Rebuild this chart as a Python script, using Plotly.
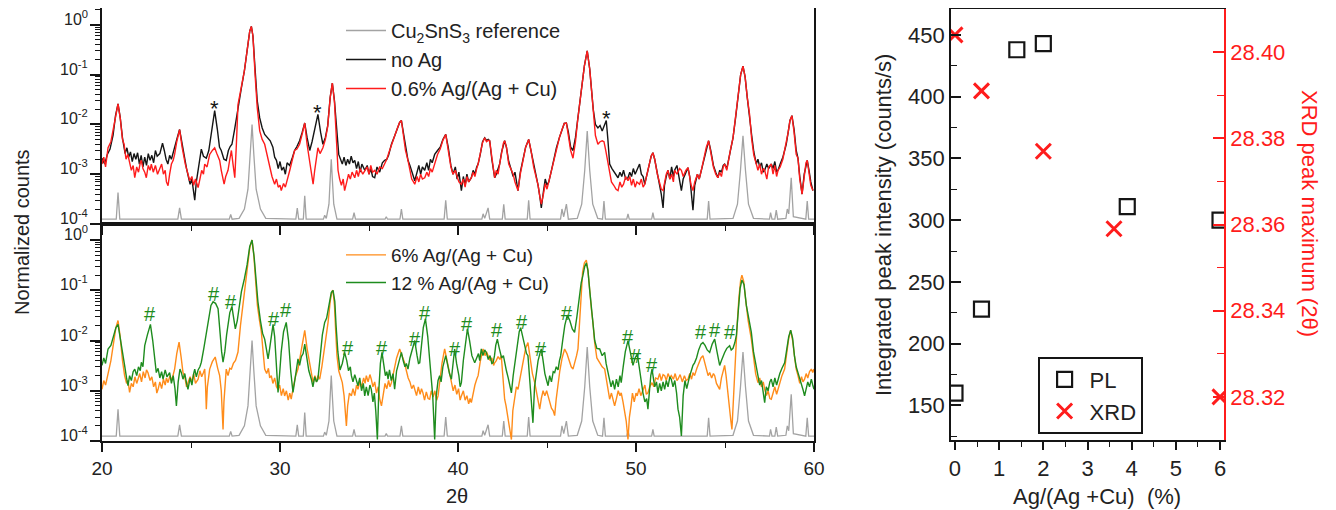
import math
import plotly.graph_objects as go

# ---------------- data (2theta, normalized counts) ----------------
ref_pts = [(20.0,1.25e-4),(20.8,1.25e-4),(20.9,4.3e-4),(21.0,1.25e-4),
    (24.26,1.25e-4),(24.36,2.1e-4),(24.46,1.25e-4),
    (27.15,1.25e-4),(27.23,1.55e-4),(27.31,1.25e-4),
    (27.7,1.3e-4),(28.0,2.0e-4),(28.2,5.0e-4),(28.33,2.5e-3),(28.43,1.0e-2),(28.53,2.5e-3),(28.66,5.0e-4),(28.9,2.0e-4),(29.2,1.3e-4),
    (30.89,1.25e-4),(30.97,2.1e-4),(31.05,1.25e-4),
    (31.31,1.25e-4),(31.39,3.7e-4),(31.47,1.25e-4),
    (32.44,1.25e-4),(32.51,1.5e-4),(32.6,1.3e-4),(32.75,2.5e-4),(32.82,8e-4),(32.88,2.0e-3),(32.94,8e-4),(33.02,2.5e-4),(33.2,1.25e-4),
    (34.08,1.25e-4),(34.16,1.7e-4),(34.24,1.25e-4),
    (35.9,1.25e-4),(35.97,1.4e-4),(36.04,1.25e-4),
    (36.74,1.25e-4),(36.82,2.0e-4),(36.9,1.25e-4),
    (39.22,1.25e-4),(39.31,3.0e-4),(39.4,1.25e-4),
    (41.34,1.25e-4),(41.41,1.6e-4),(41.5,1.3e-4),(41.69,2.1e-4),(41.78,1.25e-4),
    (42.49,1.25e-4),(42.57,2.5e-4),(42.65,1.25e-4),
    (43.89,1.25e-4),(43.97,3.0e-4),(44.05,1.25e-4),
    (45.76,1.25e-4),(45.84,2.0e-4),(45.94,1.4e-4),(46.09,2.5e-4),(46.2,1.25e-4),
    (46.7,1.3e-4),(46.95,2.5e-4),(47.12,1.2e-3),(47.26,7.4e-3),(47.4,1.2e-3),(47.57,2.5e-4),(47.85,1.3e-4),
    (48.12,1.25e-4),(48.2,2.9e-4),(48.28,1.25e-4),
    (49.48,1.25e-4),(49.55,1.6e-4),(49.62,1.25e-4),
    (50.88,1.25e-4),(50.95,1.7e-4),(51.02,1.25e-4),
    (54.0,1.25e-4),(54.08,2.9e-4),(54.16,1.25e-4),
    (55.45,1.3e-4),(55.7,2.5e-4),(55.87,1.2e-3),(56.01,5.9e-3),(56.15,1.2e-3),(56.32,2.5e-4),(56.6,1.3e-4),
    (57.5,1.25e-4),(57.56,1.7e-4),(57.64,1.25e-4),(57.8,1.25e-4),(57.88,1.9e-4),(57.96,1.25e-4),
    (58.42,1.3e-4),(58.5,2.0e-4),(58.58,1.6e-4),(58.72,8.5e-4),(58.84,1.4e-4),
    (59.54,1.25e-4),(59.62,2.9e-4),(59.7,1.25e-4),(60.0,1.25e-4)]

no_ag_pts = [(20.0,2.1e-3),(20.15,1.6e-3),(20.3,2.5e-3),(20.45,3.2e-3),(20.62,6.0e-3),(20.76,0.015),(20.9,0.026),(21.02,0.014),(21.15,5.4e-3),(21.3,2.6e-3),
    (21.4,3.4e-3),(21.5,2.2e-3),(21.6,2.8e-3),(21.7,1.8e-3),(21.8,2.6e-3),(21.9,2.0e-3),(22.0,2.7e-3),(22.1,1.6e-3),(22.2,2.4e-3),(22.3,1.4e-3),
    (22.4,2.2e-3),(22.5,1.5e-3),(22.6,2.6e-3),(22.7,1.9e-3),(22.8,2.4e-3),(22.9,1.7e-3),(23.0,3.0e-3),(23.1,2.3e-3),(23.25,2.6e-3),(23.4,4.2e-3),
    (23.5,3.0e-3),(23.6,2.0e-3),(23.7,1.6e-3),(23.8,2.4e-3),(23.9,2.0e-3),(24.05,3.0e-3),(24.2,5.0e-3),(24.36,7.9e-3),(24.5,4.0e-3),(24.64,2.1e-3),
    (24.75,1.3e-3),(24.85,9e-4),(24.95,6.3e-4),(25.05,8.0e-4),(25.15,4.5e-4),(25.21,3.0e-4),(25.3,7.0e-4),(25.4,1.2e-3),(25.5,2.4e-3),(25.58,3.2e-3),
    (25.7,2.3e-3),(25.86,2.1e-3),(26.0,3.0e-3),(26.15,7.0e-3),(26.33,0.019),(26.48,8.0e-3),(26.6,3.5e-3),(26.7,3.0e-3),(26.85,2.0e-3),(26.98,1.9e-3),
    (27.1,3.0e-3),(27.2,3.6e-3),(27.3,4.0e-3),(27.45,8.0e-3),(27.6,0.018),(27.83,0.054),(28.0,0.12),(28.15,0.3),(28.3,0.75),(28.39,0.93),
    (28.48,0.6),(28.6,0.13),(28.72,0.03),(28.86,0.0135),(29.0,8.5e-3),(29.14,6.3e-3),(29.3,5.5e-3),(29.45,4.7e-3),(29.6,3.5e-3),(29.7,2.2e-3),
    (29.8,1.9e-3),(29.9,1.3e-3),(30.0,1.8e-3),(30.1,1.2e-3),(30.2,1.4e-3),(30.3,1.0e-3),(30.4,1.7e-3),(30.54,1.5e-3),(30.7,2.2e-3),(30.82,3.0e-3),
    (30.95,3.6e-3),(31.1,4.7e-3),(31.25,7.0e-3),(31.39,0.0107),(31.52,5.5e-3),(31.67,3.0e-3),(31.8,4.5e-3),(31.95,7.5e-3),(32.13,0.016),(32.28,7.0e-3),
    (32.41,4.0e-3),(32.55,5.5e-3),(32.68,9.5e-3),(32.82,0.035),(32.94,0.068),(33.06,0.03),(33.18,7.0e-3),(33.3,2.5e-3),(33.4,2.0e-3),(33.5,1.6e-3),
    (33.6,2.2e-3),(33.7,1.5e-3),(33.8,2.0e-3),(33.9,1.6e-3),(34.0,2.3e-3),(34.1,1.7e-3),(34.2,1.9e-3),(34.3,1.3e-3),(34.4,1.8e-3),(34.5,1.1e-3),
    (34.6,1.6e-3),(34.76,1.2e-3),(34.9,1.5e-3),(35.0,1.0e-3),(35.1,1.3e-3),(35.2,9e-4),(35.32,8.5e-4),(35.45,1.4e-3),(35.6,1.1e-3),(35.75,1.7e-3),
    (35.88,1.9e-3),(36.0,2.0e-3),(36.1,2.4e-3),(36.26,4.0e-3),(36.45,6.0e-3),(36.6,8.5e-3),(36.72,0.011),(36.82,0.012),(36.95,6.5e-3),(37.05,3.5e-3),
    (37.19,1.9e-3),(37.3,1.5e-3),(37.4,1.1e-3),(37.5,9e-4),(37.57,7.4e-4),(37.7,1.1e-3),(37.8,1.5e-3),(37.9,1.0e-3),(38.0,1.4e-3),(38.13,1.2e-3),
    (38.25,1.7e-3),(38.35,1.2e-3),(38.45,2.0e-3),(38.55,1.7e-3),(38.69,2.5e-3),(38.85,3.0e-3),(39.0,3.5e-3),(39.15,5.0e-3),(39.31,6.3e-3),(39.45,3.5e-3),
    (39.6,1.5e-3),(39.72,1.0e-3),(39.85,1.4e-3),(39.95,8e-4),(40.05,1.1e-3),(40.19,4.7e-4),(40.3,9e-4),(40.4,6e-4),(40.5,1.0e-3),(40.6,7e-4),
    (40.75,8.5e-4),(40.85,1.2e-3),(40.95,1.0e-3),(41.05,1.4e-3),(41.13,1.6e-3),(41.25,2.5e-3),(41.38,4.5e-3),(41.5,5.4e-3),(41.6,4.8e-3),(41.7,5.0e-3),
    (41.78,4.7e-3),(41.9,2.0e-3),(42.0,1.2e-3),(42.06,8.5e-4),(42.15,1.0e-3),(42.25,1.3e-3),(42.34,1.6e-3),(42.45,2.8e-3),(42.55,4.2e-3),(42.62,4.7e-3),
    (42.72,3.5e-3),(42.85,1.8e-3),(43.0,1.2e-3),(43.1,9e-4),(43.2,1.1e-3),(43.3,6e-4),(43.37,4.7e-4),(43.5,1.1e-3),(43.65,2.0e-3),(43.8,3.5e-3),
    (43.97,5.0e-3),(44.1,3.0e-3),(44.25,1.5e-3),(44.4,8.5e-4),(44.5,6e-4),(44.6,3.5e-4),(44.68,2.1e-4),(44.8,4.5e-4),(44.9,8e-4),(45.0,6e-4),
    (45.1,7e-4),(45.25,1.2e-3),(45.4,2.2e-3),(45.53,3.4e-3),(45.7,5.5e-3),(45.85,8.0e-3),(45.97,0.0105),(46.09,0.0107),(46.2,7.0e-3),(46.33,3.5e-3),
    (46.46,3.0e-3),(46.6,5.5e-3),(46.72,0.013),(46.84,0.025),(46.97,0.06),(47.1,0.15),(47.26,0.30),(47.4,0.13),(47.5,0.05),(47.6,0.02),
    (47.72,0.01),(47.86,8.5e-3),(47.98,9.5e-3),(48.1,7.4e-3),(48.22,9.5e-3),(48.33,0.012),(48.42,5.0e-3),(48.52,1.6e-3),(48.65,1.3e-3),(48.8,1.1e-3),
    (48.99,8.5e-4),(49.1,1.1e-3),(49.2,9e-4),(49.3,1.2e-3),(49.42,8e-4),(49.55,8.5e-4),(49.65,1.1e-3),(49.75,9e-4),(49.85,1.3e-3),(49.95,1.0e-3),
    (50.05,1.2e-3),(50.2,1.6e-3),(50.3,1.0e-3),(50.4,9e-4),(50.49,6.3e-4),(50.6,1.0e-3),(50.75,1.6e-3),(50.85,2.3e-3),(50.95,2.7e-3),(51.05,2.0e-3),
    (51.2,1.0e-3),(51.33,6.3e-4),(51.42,4e-4),(51.52,2.1e-4),(51.6,6e-4),(51.7,9e-4),(51.8,1.2e-3),(51.9,8e-4),(52.0,1.4e-3),(52.1,9e-4),
    (52.17,1.2e-3),(52.3,1.5e-3),(52.45,7e-4),(52.55,4.7e-4),(52.65,8e-4),(52.8,1.1e-3),(52.92,1.35e-3),(53.02,9e-4),(53.1,4e-4),(53.2,1.9e-4),
    (53.3,6e-4),(53.45,1.0e-3),(53.55,8e-4),(53.67,1.2e-3),(53.8,2.0e-3),(53.95,3.5e-3),(54.08,4.7e-3),(54.2,3.0e-3),(54.35,1.5e-3),(54.48,1.1e-3),
    (54.6,8.5e-4),(54.7,1.2e-3),(54.8,1.1e-3),(54.9,1.5e-3),(54.98,1.6e-3),(55.1,1.3e-3),(55.2,2.0e-3),(55.3,3.0e-3),(55.45,5.4e-3),(55.6,0.014),
    (55.75,0.04),(55.88,0.1),(56.01,0.148),(56.13,0.09),(56.25,0.035),(56.38,0.016),(56.5,6.0e-3),(56.62,2.8e-3),(56.76,1.6e-3),(56.85,2.0e-3),
    (56.95,1.4e-3),(57.05,1.7e-3),(57.15,1.1e-3),(57.23,1.2e-3),(57.35,1.6e-3),(57.45,1.3e-3),(57.6,1.6e-3),(57.7,1.3e-3),(57.8,1.8e-3),(57.9,1.1e-3),
    (57.98,1.2e-3),(58.1,1.6e-3),(58.25,2.2e-3),(58.35,3.0e-3),(58.44,4.0e-3),(58.55,7.0e-3),(58.65,0.012),(58.76,0.015),(58.88,0.008),(59.0,3.0e-3),
    (59.1,2.1e-3),(59.2,9e-4),(59.33,4.0e-4),(59.45,1.0e-3),(59.55,1.6e-3),(59.62,1.9e-3),(59.72,1.2e-3),(59.82,7e-4),(59.94,4.7e-4)]

ag06_pts = [(20.0,1.6e-3),(20.1,2.2e-3),(20.2,1.4e-3),(20.34,3.4e-3),(20.5,4.5e-3),(20.64,8.0e-3),(20.77,0.016),(20.9,0.026),(21.03,0.013),(21.15,5.0e-3),
    (21.24,4.0e-3),(21.35,2.0e-3),(21.45,2.5e-3),(21.55,1.6e-3),(21.65,1.2e-3),(21.75,1.5e-3),(21.84,8.5e-4),(21.95,1.4e-3),(22.05,1.1e-3),(22.15,1.7e-3),
    (22.21,1.9e-3),(22.3,1.3e-3),(22.4,1.1e-3),(22.49,8.5e-4),(22.6,1.5e-3),(22.7,1.2e-3),(22.77,1.6e-3),(22.88,1.1e-3),(23.0,1.5e-3),(23.12,1.0e-3),
    (23.24,1.35e-3),(23.35,1.6e-3),(23.45,1.0e-3),(23.55,1.2e-3),(23.62,7e-4),(23.71,5.9e-4),(23.8,1.0e-3),(23.9,1.6e-3),(24.0,1.9e-3),(24.08,2.5e-3),
    (24.2,4.5e-3),(24.36,7.9e-3),(24.5,3.5e-3),(24.6,2.2e-3),(24.68,1.6e-3),(24.8,1.1e-3),(24.93,7.4e-4),(25.05,9e-4),(25.15,6e-4),(25.25,8e-4),
    (25.4,5.4e-4),(25.5,8e-4),(25.6,1.2e-3),(25.7,1.0e-3),(25.77,1.6e-3),(25.9,1.4e-3),(26.05,2.5e-3),(26.2,3.0e-3),(26.33,3.4e-3),(26.45,2.6e-3),
    (26.55,2.2e-3),(26.61,1.9e-3),(26.7,1.2e-3),(26.78,8e-4),(26.86,6.3e-4),(26.95,9e-4),(27.08,1.2e-3),(27.18,2.0e-3),(27.27,3.0e-3),(27.36,1.6e-3),
    (27.46,8.5e-4),(27.55,4.0e-3),(27.64,0.025),(27.8,0.05),(28.0,0.12),(28.15,0.3),(28.3,0.75),(28.39,0.93),(28.48,0.6),(28.6,0.1),
    (28.72,0.022),(28.86,7.4e-3),(29.0,5.0e-3),(29.14,4.0e-3),(29.28,2.5e-3),(29.42,1.35e-3),(29.55,9e-4),(29.7,6.3e-4),(29.8,8e-4),(29.9,5.5e-4),
    (30.0,6e-4),(30.07,4.7e-4),(30.2,6.5e-4),(30.3,5.5e-4),(30.45,8.5e-4),(30.55,1.2e-3),(30.7,2.0e-3),(30.82,3.0e-3),(30.95,3.2e-3),(31.1,4.0e-3),
    (31.25,6.5e-3),(31.39,0.0107),(31.52,4.0e-3),(31.67,1.6e-3),(31.78,9e-4),(31.86,6.3e-4),(31.95,1.2e-3),(32.05,2.2e-3),(32.13,3.4e-3),(32.25,2.6e-3),
    (32.41,3.4e-3),(32.55,5.0e-3),(32.68,9.0e-3),(32.82,0.035),(32.94,0.068),(33.06,0.028),(33.18,5.0e-3),(33.26,1.2e-3),(33.35,8e-4),(33.45,6e-4),
    (33.55,8e-4),(33.63,4.7e-4),(33.75,7e-4),(33.85,1.0e-3),(33.95,8e-4),(34.05,1.1e-3),(34.2,8.5e-4),(34.3,1.2e-3),(34.4,9e-4),(34.5,1.3e-3),
    (34.65,1.0e-3),(34.76,1.2e-3),(34.9,1.4e-3),(35.0,1.0e-3),(35.1,1.5e-3),(35.2,1.1e-3),(35.32,1.2e-3),(35.45,1.0e-3),(35.6,1.4e-3),(35.75,1.3e-3),
    (35.88,1.6e-3),(36.0,2.0e-3),(36.1,2.6e-3),(36.26,4.0e-3),(36.45,6.0e-3),(36.6,8.5e-3),(36.72,0.011),(36.82,0.012),(36.95,6.0e-3),(37.05,3.0e-3),
    (37.19,1.9e-3),(37.3,1.2e-3),(37.4,8e-4),(37.5,7e-4),(37.57,6.3e-4),(37.7,9e-4),(37.8,7e-4),(37.9,1.0e-3),(38.0,8e-4),(38.13,8.5e-4),
    (38.25,1.1e-3),(38.35,9e-4),(38.45,1.3e-3),(38.55,1.1e-3),(38.69,1.6e-3),(38.85,2.5e-3),(39.0,3.2e-3),(39.15,4.8e-3),(39.31,6.3e-3),(39.45,3.0e-3),
    (39.6,1.4e-3),(39.72,1.0e-3),(39.85,1.2e-3),(39.95,9e-4),(40.05,7e-4),(40.19,6.3e-4),(40.3,8e-4),(40.4,5.5e-4),(40.5,9e-4),(40.6,7e-4),
    (40.75,8.5e-4),(40.85,1.1e-3),(40.95,9e-4),(41.05,1.3e-3),(41.13,1.6e-3),(41.25,2.6e-3),(41.38,4.3e-3),(41.5,5.4e-3),(41.6,4.5e-3),(41.7,4.8e-3),
    (41.78,4.7e-3),(41.9,2.2e-3),(42.0,1.1e-3),(42.06,8.5e-4),(42.15,1.2e-3),(42.25,1.0e-3),(42.34,1.6e-3),(42.45,2.8e-3),(42.55,4.2e-3),(42.62,4.7e-3),
    (42.72,3.5e-3),(42.85,1.6e-3),(43.0,1.2e-3),(43.1,1.0e-3),(43.2,7e-4),(43.3,5.5e-4),(43.37,4.7e-4),(43.5,1.0e-3),(43.65,2.0e-3),(43.8,3.5e-3),
    (43.97,5.0e-3),(44.1,3.0e-3),(44.25,1.4e-3),(44.4,8.5e-4),(44.5,6e-4),(44.6,3.5e-4),(44.68,2.5e-4),(44.8,4e-4),(44.9,6.5e-4),(45.0,5e-4),
    (45.1,7e-4),(45.25,1.2e-3),(45.4,2.0e-3),(45.53,3.4e-3),(45.7,5.5e-3),(45.85,8.0e-3),(45.97,0.0105),(46.09,0.0107),(46.2,6.5e-3),(46.33,3.0e-3),
    (46.46,2.1e-3),(46.6,4.5e-3),(46.72,0.012),(46.84,0.025),(46.97,0.06),(47.1,0.15),(47.26,0.30),(47.4,0.13),(47.5,0.05),(47.6,0.016),
    (47.72,6.0e-3),(47.86,4.0e-3),(47.98,4.5e-3),(48.1,4.7e-3),(48.2,4.5e-3),(48.3,3.0e-3),(48.42,1.6e-3),(48.52,1.0e-3),(48.62,7e-4),(48.75,6e-4),
    (48.88,5e-4),(48.99,4.7e-4),(49.1,7e-4),(49.2,5.5e-4),(49.3,6.3e-4),(49.42,9e-4),(49.55,7.4e-4),(49.65,9e-4),(49.75,6e-4),(49.85,8e-4),
    (49.95,5.5e-4),(50.05,7e-4),(50.2,6.3e-4),(50.3,8e-4),(50.4,5.5e-4),(50.49,6.3e-4),(50.6,9e-4),(50.75,1.6e-3),(50.85,2.3e-3),(50.95,2.7e-3),
    (51.05,2.0e-3),(51.2,1.0e-3),(51.33,6.3e-4),(51.42,5e-4),(51.52,4.7e-4),(51.6,7e-4),(51.7,1.0e-3),(51.8,1.2e-3),(51.9,8e-4),(52.0,1.0e-3),
    (52.1,7e-4),(52.17,1.2e-3),(52.3,1.0e-3),(52.45,1.3e-3),(52.55,1.2e-3),(52.65,9e-4),(52.8,1.2e-3),(52.92,1.35e-3),(53.02,8e-4),(53.1,6e-4),
    (53.2,4.7e-4),(53.3,7e-4),(53.45,1.0e-3),(53.55,8e-4),(53.67,1.2e-3),(53.8,2.0e-3),(53.95,3.5e-3),(54.08,4.7e-3),(54.2,2.8e-3),(54.35,1.4e-3),
    (54.48,1.0e-3),(54.6,8.5e-4),(54.7,1.1e-3),(54.8,9e-4),(54.9,1.4e-3),(54.98,1.6e-3),(55.1,1.2e-3),(55.2,2.0e-3),(55.3,3.0e-3),(55.45,5.4e-3),
    (55.6,0.014),(55.75,0.04),(55.88,0.1),(56.01,0.148),(56.13,0.09),(56.25,0.035),(56.38,0.016),(56.5,5.0e-3),(56.62,2.4e-3),(56.76,1.6e-3),
    (56.85,1.2e-3),(56.95,1.6e-3),(57.05,1.0e-3),(57.15,1.3e-3),(57.23,1.2e-3),(57.35,8e-4),(57.45,1.4e-3),(57.6,1.6e-3),(57.7,1.0e-3),(57.8,1.5e-3),
    (57.9,9e-4),(57.98,1.2e-3),(58.1,1.4e-3),(58.25,2.0e-3),(58.35,3.0e-3),(58.44,4.0e-3),(58.55,7.0e-3),(58.65,0.012),(58.76,0.015),(58.88,0.007),
    (59.0,2.5e-3),(59.1,2.1e-3),(59.2,8e-4),(59.33,4.0e-4),(59.45,9e-4),(59.55,1.7e-3),(59.62,1.9e-3),(59.72,1.1e-3),(59.82,6e-4),(59.94,4.7e-4)]

ag6_pts = [(20.0,1.07e-3),(20.1,1.6e-3),(20.2,1.3e-3),(20.34,2.3e-3),(20.5,4.0e-3),(20.65,9.0e-3),(20.78,0.018),(20.9,0.025),(21.02,0.012),(21.15,4.0e-3),
    (21.27,2.0e-3),(21.38,1.4e-3),(21.46,1.6e-3),(21.55,9.3e-4),(21.65,1.4e-3),(21.75,1.2e-3),(21.85,1.9e-3),(21.95,1.4e-3),(22.02,1.7e-3),(22.12,2.2e-3),
    (22.22,1.5e-3),(22.32,2.4e-3),(22.42,1.8e-3),(22.5,2.6e-3),(22.58,2.3e-3),(22.7,1.6e-3),(22.8,1.9e-3),(22.9,1.2e-3),(23.0,1.5e-3),(23.08,9e-4),
    (23.15,1.07e-3),(23.25,1.5e-3),(23.35,1.1e-3),(23.45,1.7e-3),(23.55,1.3e-3),(23.62,1.8e-3),(23.71,1.45e-3),(23.82,2.0e-3),(23.92,1.6e-3),(24.0,2.2e-3),
    (24.08,2.7e-3),(24.2,5.5e-3),(24.33,9.3e-3),(24.45,4.5e-3),(24.55,2.3e-3),(24.65,1.9e-3),(24.75,1.2e-3),(24.83,1.45e-3),(24.95,1.9e-3),(25.05,1.5e-3),
    (25.15,2.2e-3),(25.25,1.4e-3),(25.4,1.7e-3),(25.5,2.5e-3),(25.6,1.9e-3),(25.7,2.3e-3),(25.77,2.7e-3),(25.82,1.2e-3),(25.86,4.3e-4),(25.92,1.2e-3),
    (26.05,2.7e-3),(26.2,3.8e-3),(26.36,4.7e-3),(26.5,2.8e-3),(26.61,2.0e-3),(26.7,1.0e-3),(26.76,4e-4),(26.8,1.7e-4),(26.85,6e-4),(26.92,1.6e-3),
    (26.98,2.7e-3),(27.08,2.0e-3),(27.18,2.8e-3),(27.27,2.7e-3),(27.38,3.5e-3),(27.5,4.0e-3),(27.64,5.9e-3),(27.78,0.02),(27.9,0.05),(28.02,0.107),
    (28.15,0.25),(28.3,0.7),(28.43,1.0),(28.53,0.5),(28.63,0.14),(28.73,0.05),(28.85,0.025),(28.95,0.015),(29.05,6.0e-3),(29.14,2.7e-3),
    (29.25,2.2e-3),(29.35,2.8e-3),(29.42,1.8e-3),(29.51,2.0e-3),(29.6,1.4e-3),(29.7,1.8e-3),(29.8,1.2e-3),(29.89,1.07e-3),(29.98,1.3e-3),(30.08,8e-4),
    (30.18,1.1e-3),(30.26,7.9e-4),(30.36,1.0e-3),(30.46,6.5e-4),(30.55,9e-4),(30.63,6.8e-4),(30.75,1.2e-3),(30.88,2.0e-3),(31.01,2.7e-3),(31.12,4.5e-3),
    (31.25,9.0e-3),(31.39,0.016),(31.52,7.0e-3),(31.67,3.6e-3),(31.76,2.0e-3),(31.86,1.45e-3),(31.96,2.0e-3),(32.05,1.5e-3),(32.13,2.0e-3),(32.23,1.7e-3),
    (32.35,3.0e-3),(32.48,6.0e-3),(32.6,0.013),(32.7,0.023),(32.82,0.06),(32.92,0.095),(32.98,0.1),(33.06,0.05),(33.13,0.015),(33.2,5.0e-3),
    (33.3,2.5e-3),(33.4,2.0e-3),(33.5,1.45e-3),(33.6,8e-4),(33.66,4e-4),(33.73,2.0e-4),(33.8,5e-4),(33.9,9e-4),(34.01,7.9e-4),(34.1,1.1e-3),
    (34.2,8e-4),(34.3,1.3e-3),(34.38,1.07e-3),(34.48,1.5e-3),(34.58,1.2e-3),(34.7,1.8e-3),(34.78,1.4e-3),(34.85,2.0e-3),(34.95,1.5e-3),(35.05,2.1e-3),
    (35.13,1.7e-3),(35.22,1.2e-3),(35.32,1.5e-3),(35.42,9e-4),(35.52,1.2e-3),(35.6,7e-4),(35.7,5.0e-4),(35.8,9e-4),(35.9,1.4e-3),(36.0,1.1e-3),
    (36.1,1.6e-3),(36.18,1.2e-3),(36.26,1.45e-3),(36.4,2.5e-3),(36.55,4.5e-3),(36.72,6.8e-3),(36.85,5.0e-3),(37.0,3.6e-3),(37.1,2.5e-3),(37.2,1.8e-3),
    (37.3,1.5e-3),(37.4,1.1e-3),(37.5,1.3e-3),(37.57,1.07e-3),(37.67,8e-4),(37.77,1.2e-3),(37.87,8.5e-4),(37.95,1.1e-3),(38.03,9.1e-4),(38.12,6.5e-4),
    (38.22,9.5e-4),(38.32,7e-4),(38.41,6.8e-4),(38.5,1.0e-3),(38.6,7.5e-4),(38.7,1.0e-3),(38.8,6.5e-4),(38.88,7.9e-4),(38.98,1.5e-3),(39.1,3.5e-3),
    (39.25,6.8e-3),(39.38,4.0e-3),(39.5,2.2e-3),(39.63,1.45e-3),(39.73,1.0e-3),(39.83,1.3e-3),(39.93,8.5e-4),(40.03,1.1e-3),(40.12,6.5e-4),(40.19,7.9e-4),
    (40.3,1.0e-3),(40.4,6.5e-4),(40.5,8e-4),(40.6,5.5e-4),(40.68,7e-4),(40.75,5.8e-4),(40.85,9e-4),(40.95,1.3e-3),(41.05,1.7e-3),(41.13,2.0e-3),
    (41.25,3.8e-3),(41.41,6.8e-3),(41.52,5.0e-3),(41.6,6.0e-3),(41.69,5.0e-3),(41.8,4.0e-3),(41.9,4.5e-3),(42.0,3.2e-3),(42.06,3.6e-3),(42.15,4.0e-3),
    (42.25,4.8e-3),(42.35,4.2e-3),(42.43,5.0e-3),(42.5,2.5e-3),(42.56,1.2e-3),(42.62,6.8e-4),(42.7,5e-4),(42.8,3e-4),(42.9,2e-4),(43.0,1.07e-4),
    (43.08,4e-4),(43.18,8e-4),(43.28,1.2e-3),(43.37,1.07e-3),(43.5,2.0e-3),(43.65,4.0e-3),(43.8,7.0e-3),(43.93,9.1e-3),(44.05,5.0e-3),(44.18,2.2e-3),
    (44.31,1.45e-3),(44.42,9e-4),(44.5,6.5e-4),(44.59,4.3e-4),(44.68,7e-4),(44.78,1.0e-3),(44.88,8e-4),(44.98,1.0e-3),(45.06,7.9e-4),(45.15,6e-4),
    (45.25,4.5e-4),(45.35,4e-4),(45.43,3.2e-4),(45.52,7e-4),(45.62,1.4e-3),(45.72,2.5e-3),(45.85,4.5e-3),(45.99,6.8e-3),(46.12,5.5e-3),(46.25,3.8e-3),
    (46.36,3.0e-3),(46.46,2.7e-3),(46.56,3.5e-3),(46.66,5.0e-3),(46.74,6.8e-3),(46.82,0.02),(46.9,0.07),(47.0,0.23),(47.1,0.35),(47.21,0.4),
    (47.3,0.25),(47.4,0.09),(47.5,0.04),(47.58,0.023),(47.68,9.0e-3),(47.8,4.5e-3),(47.96,3.6e-3),(48.1,3.0e-3),(48.24,2.7e-3),(48.32,1.8e-3),
    (48.42,1.0e-3),(48.52,6.8e-4),(48.62,9e-4),(48.72,6e-4),(48.8,5.0e-4),(48.9,7e-4),(49.0,1.0e-3),(49.1,8e-4),(49.17,9.1e-4),(49.27,6e-4),
    (49.37,4e-4),(49.45,2.5e-4),(49.55,1.07e-4),(49.63,3e-4),(49.72,5e-4),(49.8,9e-4),(49.9,6e-4),(50.0,9e-4),(50.07,7.9e-4),(50.17,1.1e-3),
    (50.27,8e-4),(50.39,1.07e-3),(50.5,1.3e-3),(50.58,8.5e-4),(50.67,9.1e-4),(50.77,1.2e-3),(50.9,1.45e-3),(51.0,1.2e-3),(51.1,1.8e-3),(51.23,1.7e-3),
    (51.33,2.2e-3),(51.42,1.6e-3),(51.52,2.1e-3),(51.61,2.0e-3),(51.7,1.6e-3),(51.8,2.2e-3),(51.9,1.8e-3),(51.98,2.0e-3),(52.1,1.7e-3),(52.2,2.2e-3),
    (52.3,1.6e-3),(52.36,1.7e-3),(52.48,2.1e-3),(52.6,1.5e-3),(52.72,2.0e-3),(52.82,1.6e-3),(52.92,1.7e-3),(53.02,2.2e-3),(53.12,1.7e-3),(53.2,2.3e-3),
    (53.29,2.0e-3),(53.42,2.8e-3),(53.55,3.8e-3),(53.65,4.5e-3),(53.76,5.0e-3),(53.86,3.5e-3),(53.96,2.5e-3),(54.05,2.0e-3),(54.14,2.3e-3),(54.25,1.8e-3),
    (54.35,2.2e-3),(54.42,2.0e-3),(54.52,1.4e-3),(54.62,1.2e-3),(54.7,1.07e-3),(54.8,1.8e-3),(54.9,2.5e-3),(54.98,3.2e-3),(55.06,2.0e-3),(55.15,9e-4),
    (55.26,4.3e-4),(55.33,2.5e-4),(55.39,1.7e-4),(55.45,5e-4),(55.52,2.0e-3),(55.6,7.0e-3),(55.68,0.02),(55.78,0.07),(55.88,0.16),(55.95,0.2),
    (56.05,0.15),(56.15,0.07),(56.3,0.025),(56.48,0.0107),(56.6,4.5e-3),(56.72,2.2e-3),(56.85,1.45e-3),(56.95,1.8e-3),(57.05,1.2e-3),(57.15,1.5e-3),
    (57.23,1.07e-3),(57.33,8e-4),(57.42,1.0e-3),(57.52,7e-4),(57.6,6.8e-4),(57.7,9e-4),(57.8,1.2e-3),(57.9,8.5e-4),(57.98,1.07e-3),(58.08,1.4e-3),
    (58.2,2.0e-3),(58.35,2.7e-3),(58.45,5.0e-3),(58.58,0.011),(58.69,0.016),(58.8,0.01),(58.9,5.0e-3),(59.0,2.7e-3),(59.1,2.0e-3),(59.2,1.4e-3),
    (59.3,1.9e-3),(59.38,1.5e-3),(59.47,1.7e-3),(59.56,2.2e-3),(59.65,1.8e-3),(59.75,2.4e-3),(59.85,2.7e-3),(59.93,2.3e-3),(60.0,2.7e-3)]

ag12_pts = [(20.0,3.2e-3),(20.1,4.5e-3),(20.2,3.5e-3),(20.34,6.8e-3),(20.5,8.0e-3),(20.65,0.012),(20.78,0.018),(20.9,0.021),(21.02,0.012),(21.15,5.5e-3),
    (21.27,3.2e-3),(21.38,1.8e-3),(21.46,1.26e-3),(21.55,2.0e-3),(21.65,1.6e-3),(21.75,2.4e-3),(21.84,2.7e-3),(21.95,2.0e-3),(22.05,3.0e-3),(22.15,2.5e-3),
    (22.21,3.7e-3),(22.3,3.0e-3),(22.4,7.9e-3),(22.55,0.013),(22.72,0.021),(22.85,0.01),(22.95,4.0e-3),(23.05,2.3e-3),(23.15,2.8e-3),(23.25,1.8e-3),
    (23.35,2.4e-3),(23.43,1.7e-3),(23.55,2.6e-3),(23.65,1.9e-3),(23.8,2.3e-3),(23.9,1.4e-3),(24.0,2.0e-3),(24.1,1.1e-3),(24.18,5.0e-4),(24.28,1.5e-3),
    (24.38,2.7e-3),(24.46,2.3e-3),(24.55,1.7e-3),(24.65,2.2e-3),(24.75,1.4e-3),(24.83,1.07e-3),(24.95,1.8e-3),(25.05,1.3e-3),(25.15,2.2e-3),(25.21,2.7e-3),
    (25.3,1.9e-3),(25.4,2.6e-3),(25.5,3.0e-3),(25.58,3.7e-3),(25.72,7.0e-3),(25.86,0.015),(26.0,0.03),(26.12,0.05),(26.24,0.059),(26.38,0.055),
    (26.52,0.043),(26.62,0.015),(26.72,6.0e-3),(26.8,3.7e-3),(26.9,6.0e-3),(27.0,0.013),(27.08,0.023),(27.18,0.036),(27.3,0.047),(27.4,0.028),
    (27.49,0.017),(27.6,0.025),(27.72,0.05),(27.83,0.093),(28.0,0.17),(28.15,0.32),(28.3,0.75),(28.43,1.0),(28.55,0.45),(28.65,0.14),
    (28.76,0.059),(28.9,0.025),(29.02,0.014),(29.14,0.0107),(29.25,6.0e-3),(29.33,4.3e-3),(29.42,7.0e-3),(29.52,0.014),(29.61,0.021),(29.7,0.012),
    (29.8,3.0e-3),(29.89,9.3e-4),(29.97,2.0e-3),(30.07,6.0e-3),(30.2,0.015),(30.35,0.023),(30.48,0.01),(30.6,2.5e-3),(30.73,9.3e-4),(30.82,1.4e-3),
    (30.92,2.6e-3),(31.01,4.3e-3),(31.1,3.2e-3),(31.2,4.8e-3),(31.3,5.5e-3),(31.39,8.5e-3),(31.5,5.0e-3),(31.62,2.5e-3),(31.76,1.7e-3),(31.85,1.2e-3),
    (31.95,1.9e-3),(32.05,1.5e-3),(32.13,1.7e-3),(32.25,4.0e-3),(32.38,0.013),(32.51,0.023),(32.62,0.028),(32.75,0.05),(32.88,0.09),(32.98,0.1),
    (33.08,0.06),(33.15,0.02),(33.25,6.0e-3),(33.37,2.6e-3),(33.5,3.5e-3),(33.63,5.8e-3),(33.75,4.0e-3),(33.85,2.5e-3),(33.95,3.0e-3),(34.01,2.0e-3),
    (34.1,1.5e-3),(34.2,2.1e-3),(34.3,1.6e-3),(34.38,1.26e-3),(34.48,1.8e-3),(34.58,1.0e-3),(34.68,1.4e-3),(34.76,7.9e-4),(34.85,1.2e-3),(34.95,8e-4),
    (35.05,1.3e-3),(35.13,1.07e-3),(35.22,6e-4),(35.3,9e-4),(35.38,4e-4),(35.47,1.07e-4),(35.55,1.0e-3),(35.64,3.5e-3),(35.73,5.8e-3),(35.82,3.5e-3),
    (35.92,2.0e-3),(36.0,2.4e-3),(36.07,1.7e-3),(36.15,2.6e-3),(36.25,1.6e-3),(36.35,2.2e-3),(36.44,1.07e-3),(36.55,2.5e-3),(36.68,4.0e-3),(36.82,5.8e-3),
    (36.92,4.0e-3),(37.02,3.0e-3),(37.1,3.5e-3),(37.19,2.7e-3),(37.3,4.5e-3),(37.45,7.5e-3),(37.57,0.01),(37.7,5.0e-3),(37.78,3.5e-3),(37.85,3.6e-3),
    (37.95,8.0e-3),(38.05,0.018),(38.17,0.027),(38.3,0.012),(38.4,4.5e-3),(38.5,2.0e-3),(38.58,8e-4),(38.69,1.07e-4),(38.78,8e-4),(38.88,1.6e-3),
    (38.97,2.0e-3),(39.05,1.5e-3),(39.15,3.0e-3),(39.31,5.0e-3),(39.42,3.0e-3),(39.52,2.2e-3),(39.63,1.7e-3),(39.72,4.0e-3),(39.81,6.8e-3),(39.92,3.5e-3),
    (40.05,2.0e-3),(40.12,1.2e-3),(40.19,1.45e-3),(40.3,4.0e-3),(40.42,0.01),(40.53,0.017),(40.65,0.01),(40.78,5.0e-3),(40.94,3.6e-3),(41.05,4.5e-3),
    (41.15,5.5e-3),(41.22,4.0e-3),(41.31,6.8e-3),(41.4,5.0e-3),(41.5,6.5e-3),(41.59,5.8e-3),(41.7,4.2e-3),(41.8,5.0e-3),(41.9,3.5e-3),(41.97,3.6e-3),
    (42.05,5.0e-3),(42.12,8.0e-3),(42.21,0.0107),(42.32,7.0e-3),(42.45,4.5e-3),(42.55,5.0e-3),(42.62,3.6e-3),(42.72,2.5e-3),(42.82,1.8e-3),(42.9,1.3e-3),
    (43.0,9.1e-4),(43.1,2.0e-3),(43.22,4.5e-3),(43.35,0.01),(43.44,0.015),(43.52,0.018),(43.62,0.012),(43.75,7.0e-3),(43.85,5.5e-3),(43.93,5.0e-3),
    (44.0,2.5e-3),(44.1,8e-4),(44.21,2.3e-4),(44.3,1.2e-3),(44.4,2.5e-3),(44.5,4.0e-3),(44.6,5.5e-3),(44.68,6.8e-3),(44.78,4.0e-3),(44.88,2.2e-3),
    (44.98,1.6e-3),(45.06,1.26e-3),(45.15,2.0e-3),(45.25,1.5e-3),(45.35,2.4e-3),(45.43,2.3e-3),(45.52,3.0e-3),(45.62,2.6e-3),(45.7,4.0e-3),(45.77,5.0e-3),
    (45.88,0.01),(46.0,0.02),(46.14,0.032),(46.28,0.025),(46.42,0.017),(46.55,0.0145),(46.68,0.03),(46.8,0.07),(46.92,0.14),(47.02,0.2),
    (47.12,0.3),(47.21,0.35),(47.3,0.25),(47.4,0.1),(47.5,0.045),(47.58,0.023),(47.68,0.01),(47.8,7.0e-3),(47.96,6.8e-3),(48.1,5.0e-3),
    (48.24,5.8e-3),(48.32,3.5e-3),(48.42,2.4e-3),(48.52,1.7e-3),(48.6,1.2e-3),(48.7,1.6e-3),(48.8,1.07e-3),(48.9,1.7e-3),(49.0,1.2e-3),(49.1,2.0e-3),
    (49.17,1.45e-3),(49.28,3.0e-3),(49.4,6.0e-3),(49.55,0.01),(49.65,6.5e-3),(49.75,4.0e-3),(49.83,3.2e-3),(49.95,4.5e-3),(50.07,5.4e-3),(50.18,3.0e-3),
    (50.28,1.5e-3),(50.39,9.1e-4),(50.5,6e-4),(50.6,7e-4),(50.67,4.3e-4),(50.75,1.2e-3),(50.83,2.0e-3),(50.9,2.7e-3),(50.98,1.8e-3),(51.05,1.2e-3),
    (51.15,1.5e-3),(51.23,9.1e-4),(51.33,1.4e-3),(51.42,1.0e-3),(51.52,1.5e-3),(51.61,1.07e-3),(51.7,1.6e-3),(51.8,1.2e-3),(51.9,1.9e-3),(51.98,1.7e-3),
    (52.08,1.2e-3),(52.18,1.6e-3),(52.28,9e-4),(52.36,4.3e-4),(52.45,3e-4),(52.55,1.26e-4),(52.65,8e-4),(52.75,1.6e-3),(52.85,1.1e-3),(52.92,1.45e-3),
    (53.02,2.0e-3),(53.12,2.6e-3),(53.2,3.2e-3),(53.29,3.6e-3),(53.4,4.5e-3),(53.52,6.5e-3),(53.65,8.5e-3),(53.76,9.1e-3),(53.88,8.0e-3),(54.0,6.5e-3),
    (54.14,5.8e-3),(54.28,8.5e-3),(54.42,0.0107),(54.55,6.0e-3),(54.62,4.0e-3),(54.7,3.2e-3),(54.8,4.0e-3),(54.9,5.0e-3),(54.98,5.8e-3),(55.1,7.0e-3),
    (55.2,7.8e-3),(55.26,7.9e-3),(55.35,6.5e-3),(55.45,7.0e-3),(55.55,9.0e-3),(55.64,0.0126),(55.75,0.04),(55.85,0.11),(55.95,0.16),(56.07,0.13),
    (56.2,0.05),(56.35,0.025),(56.48,0.0145),(56.6,6.0e-3),(56.72,3.5e-3),(56.85,2.0e-3),(56.95,1.3e-3),(57.05,1.6e-3),(57.15,8e-4),(57.23,5.8e-4),
    (57.32,1.2e-3),(57.42,1.0e-3),(57.52,1.5e-3),(57.6,1.7e-3),(57.7,1.2e-3),(57.8,1.8e-3),(57.9,1.3e-3),(57.98,1.7e-3),(58.08,2.2e-3),(58.2,2.8e-3),
    (58.35,3.6e-3),(58.45,6.0e-3),(58.58,0.012),(58.69,0.016),(58.8,0.011),(58.9,5.0e-3),(59.0,3.0e-3),(59.1,2.3e-3),(59.2,1.8e-3),(59.3,1.3e-3),
    (59.4,1.0e-3),(59.47,7.9e-4),(59.55,1.1e-3),(59.65,1.5e-3),(59.75,1.2e-3),(59.85,1.7e-3),(59.93,1.3e-3),(60.0,1.07e-3)]

# marked peaks
star_x = [26.33, 32.13, 48.33]
star_y = [0.021, 0.017, 0.013]
hash_x = [22.72, 26.3, 27.27, 29.65, 30.32, 33.82, 35.73, 37.57, 38.13, 39.81, 40.53,
          42.21, 43.62, 44.68, 46.14, 49.55, 50.02, 50.9, 53.67, 54.42, 55.26]
hash_y = [0.034, 0.085, 0.058, 0.027, 0.041, 0.0072, 0.0072, 0.0107, 0.036, 0.0069, 0.021,
          0.016, 0.023, 0.0068, 0.035, 0.0115, 0.005, 0.0032, 0.0145, 0.016, 0.015]

# log-axis tick labels
ytick_vals = [1e-4, 1e-3, 1e-2, 1e-1, 1]
ytick_text = ["10<sup>-4</sup>", "10<sup>-3</sup>", "10<sup>-2</sup>", "10<sup>-1</sup>", "10<sup>0</sup>"]

# right panel
pl_ag = [0, 0.6, 1.4, 2.0, 3.9, 6.0]
pl_intensity = [160, 228, 438, 443, 311, 300]
xrd_ag = [0, 0.6, 2.0, 3.6, 6.0]
xrd_peak = [28.404, 28.391, 28.377, 28.359, 28.320]

series_names = ["Cu<sub>2</sub>SnS<sub>3</sub> reference", "no Ag", "0.6% Ag/(Ag + Cu)",
                "6% Ag/(Ag + Cu)", "12 % Ag/(Ag + Cu)"]

# ---------------- figure ----------------
PAGE_W, PAGE_H = 1336, 510
OFF = 8                       # default page margin around the plot div
W, H = PAGE_W - OFF, PAGE_H - OFF
FONT = "Arial, Liberation Sans, sans-serif"
GRAY, BLACK, RED, ORANGE, GREEN = "#a3a3a3", "#151515", "#ff1c1c", "#ff8c1a", "#1e8c1e"


def unzip(pts):
    return [p[0] for p in pts], [p[1] for p in pts]


def px_x(p):
    return (p - OFF) / W


def px_y(p):
    return 1 - (p - OFF) / H


fig = go.Figure()
rx, ry = unzip(ref_pts)
for xa, ya, show in (("x", "y", True), ("x2", "y2", False)):
    fig.add_trace(go.Scatter(x=rx, y=ry, xaxis=xa, yaxis=ya, mode="lines",
                             line=dict(color=GRAY, width=1.3), name=series_names[0],
                             showlegend=show, legend="legend"))
for pts, col, nm in ((no_ag_pts, BLACK, series_names[1]), (ag06_pts, RED, series_names[2])):
    x, y = unzip(pts)
    fig.add_trace(go.Scatter(x=x, y=y, xaxis="x", yaxis="y", mode="lines",
                             line=dict(color=col, width=1.4), name=nm, legend="legend"))
for pts, col, nm in ((ag6_pts, ORANGE, series_names[3]), (ag12_pts, GREEN, series_names[4])):
    x, y = unzip(pts)
    fig.add_trace(go.Scatter(x=x, y=y, xaxis="x2", yaxis="y2", mode="lines",
                             line=dict(color=col, width=1.4), name=nm, legend="legend2"))

fig.add_trace(go.Scatter(x=pl_ag, y=pl_intensity, xaxis="x3", yaxis="y3", mode="markers", name="PL",
                         marker=dict(symbol="square-open", size=15, color=BLACK, line=dict(width=2.2)),
                         legend="legend3"))
fig.add_trace(go.Scatter(x=xrd_ag, y=xrd_peak, xaxis="x3", yaxis="y4", mode="markers", name="XRD",
                         marker=dict(symbol="x-thin", size=15, color=RED, line=dict(width=3, color=RED)),
                         legend="legend3"))

L0, L1 = px_x(102), px_x(814)
TOP = [px_y(224), px_y(8)]
BOT = [px_y(441), px_y(224)]
tickfont_l = dict(size=19, color="#222", family=FONT)
tickfont_r = dict(size=22, color="#222", family=FONT)

common_x = dict(range=[20, 60], dtick=10, ticks="outside", ticklen=9, tickwidth=1.5,
                tickcolor=BLACK, showline=True, linecolor=BLACK, linewidth=1.6, mirror=True,
                showgrid=False, zeroline=False,
                minor=dict(dtick=5, ticks="outside", ticklen=5, tickwidth=1.3, tickcolor=BLACK, showgrid=False))
common_ylog = dict(type="log", dtick=1, showticklabels=False,
                   ticks="outside", ticklen=10, tickwidth=1.5, tickcolor=BLACK,
                   showline=True, linecolor=BLACK, linewidth=1.6, mirror=True, showgrid=False,
                   zeroline=False,
                   minor=dict(dtick="D1", ticks="outside", ticklen=5, tickwidth=1, tickcolor=BLACK, showgrid=False))

fig.update_layout(
    width=W, height=H, autosize=False, margin=dict(l=0, r=0, t=0, b=0, autoexpand=False),
    paper_bgcolor="white", plot_bgcolor="white", font=dict(family=FONT, color="#222"),
    xaxis=dict(domain=[L0, L1], anchor="y", showticklabels=False, **common_x),
    yaxis=dict(domain=TOP, anchor="x", range=[-4, 0.34], **common_ylog),
    xaxis2=dict(domain=[L0, L1], anchor="y2", matches="x", tickfont=tickfont_l, **common_x),
    yaxis2=dict(domain=BOT, anchor="x2", range=[-4, 0.32], **common_ylog),
    xaxis3=dict(domain=[px_x(951), px_x(1224)], anchor="y3", range=[-0.09, 6.09], dtick=1,
                ticks="outside", ticklen=8, tickwidth=1.5, tickcolor=BLACK, showline=True,
                linecolor=BLACK, linewidth=1.6, mirror=True, showgrid=False, zeroline=False,
                tickfont=tickfont_r,
                minor=dict(dtick=0.5, ticks="outside", ticklen=5, tickwidth=1.3, tickcolor=BLACK, showgrid=False)),
    yaxis3=dict(domain=[px_y(440), px_y(9)], anchor="x3", range=[122, 471], dtick=50,
                ticks="inside", ticklen=10, tickwidth=1.5, tickcolor=BLACK, showline=True,
                linecolor=BLACK, linewidth=1.6, showgrid=False, zeroline=False, tickfont=tickfont_r,
                minor=dict(dtick=25, ticks="inside", ticklen=6, tickwidth=1.3, tickcolor=BLACK, showgrid=False)),
    yaxis4=dict(anchor="x3", overlaying="y3", side="right", range=[28.31, 28.41], dtick=0.02,
                tickformat=".2f", ticks="inside", ticklen=11, tickwidth=1.5, tickcolor=RED,
                showline=True, linecolor=RED, linewidth=1.8, showgrid=False, zeroline=False,
                tickfont=dict(size=22, color=RED, family=FONT),
                minor=dict(dtick=0.01, ticks="inside", ticklen=7, tickwidth=1.3, tickcolor=RED, showgrid=False)),
    legend=dict(x=px_x(341), y=px_y(11), xanchor="left", yanchor="top", bgcolor="rgba(0,0,0,0)",
                font=dict(size=20, color="#222", family=FONT), itemwidth=40),
    legend2=dict(x=px_x(341), y=px_y(236), xanchor="left", yanchor="top", bgcolor="rgba(0,0,0,0)",
                 font=dict(size=19, color="#222", family=FONT), itemwidth=40),
    legend3=dict(x=px_x(1038), y=px_y(357), xanchor="left", yanchor="top", bgcolor="white",
                 bordercolor=BLACK, borderwidth=1.6, font=dict(size=22, color="#222", family=FONT),
                 itemwidth=40, entrywidth=94),
)

# y tick labels of the log panels (slightly raised as in the reference)
for ya in ("y", "y2"):
    for v, t in zip(ytick_vals, ytick_text):
        fig.add_annotation(xref="paper", yref=ya, x=px_x(90), y=math.log10(v), text=t,
                           showarrow=False, xanchor="right", yanchor="middle", yshift=7,
                           font=dict(size=16, color="#222", family=FONT))

# peak markers
for xv, yv in zip(star_x, star_y):
    fig.add_annotation(xref="x", yref="y", x=xv, y=math.log10(yv), text="*", showarrow=False,
                       xanchor="center", yanchor="middle", font=dict(size=22, color=BLACK, family=FONT))
for xv, yv in zip(hash_x, hash_y):
    fig.add_annotation(xref="x2", yref="y2", x=xv, y=math.log10(yv), text="#", showarrow=False,
                       xanchor="center", yanchor="middle", font=dict(size=20, color=GREEN, family=FONT))

ann = [
    dict(text="Normalized counts", x=px_x(22), y=px_y(232), textangle=-90, font=dict(size=20)),
    dict(text="2θ", x=px_x(457), y=px_y(496), font=dict(size=20)),
    dict(text="Ag/(Ag +Cu)\u00a0\u00a0(%)", x=px_x(1097), y=px_y(496), font=dict(size=22)),
    dict(text="Integrated peak intensity (counts/s)", x=px_x(883), y=px_y(225), textangle=-90, font=dict(size=22)),
    dict(text="XRD peak maximum (2θ)", x=px_x(1310), y=px_y(213), textangle=90, font=dict(size=22, color=RED)),
]
for a in ann:
    f = dict(family=FONT, color="#222")
    f.update(a.pop("font"))
    fig.add_annotation(xref="paper", yref="paper", showarrow=False, xanchor="center", yanchor="middle",
                       font=f, **a)

fig.write_html("out.html")
